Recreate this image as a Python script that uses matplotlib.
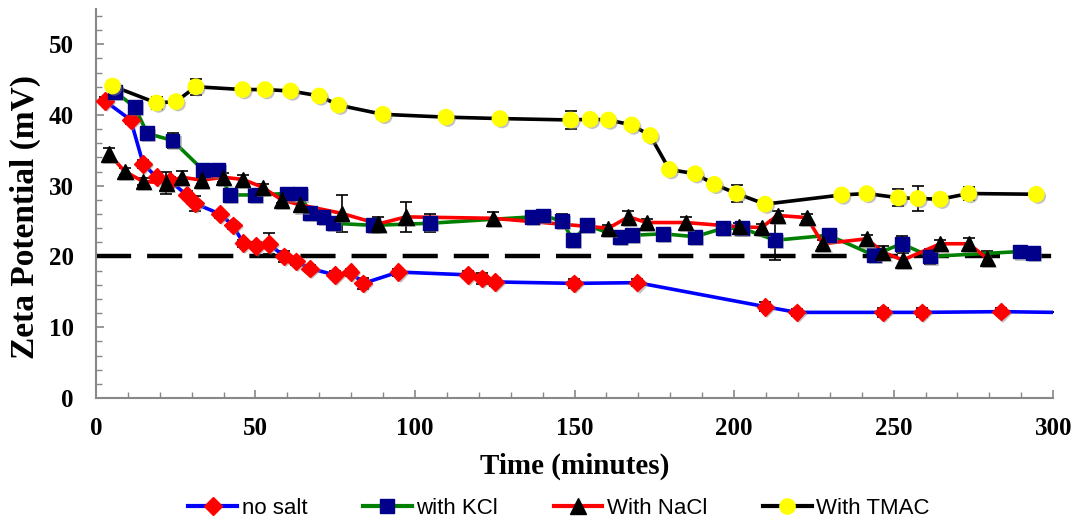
import matplotlib
matplotlib.use('Agg')
import matplotlib.pyplot as plt
import matplotlib.patheffects as pe
from matplotlib.lines import Line2D

# --- data ---
nosalt_t = [2.8, 10.9, 14.8, 19.0, 23.2, 28.4, 31.0, 38.9, 42.9, 46.2, 50.1, 54.2, 59.0,
            62.7, 67.1, 74.9, 79.8, 83.8, 94.8, 116.7, 120.9, 125.1, 149.9, 169.7,
            209.8, 219.6, 246.6, 258.8, 283.6, 300.0]
nosalt_z = [42.0, 39.3, 33.1, 31.2, 30.7, 28.7, 27.5, 26.0, 24.4, 21.9, 21.5, 21.8, 20.0,
            19.3, 18.3, 17.4, 17.8, 16.2, 17.8, 17.4, 16.9, 16.4, 16.2, 16.3,
            12.9, 12.1, 12.1, 12.1, 12.2, 12.1]
nosalt_err = [0.5, 0.5, 0.6, 0.5, 0.5, 0.5, 1.0, 0.5, 0.5, 0.5, 0.5, 1.5, 0.8,
              0.5, 0.5, 0.5, 0.5, 0.8, 0.5, 0.5, 0.8, 0.6, 0.6, 0.5,
              0.6, 0.5, 0.6, 0.6, 0.5, 0.0]

kcl_t = [6.0, 12.2, 16.1, 24.0, 33.6, 38.3, 42.0, 49.8, 59.8, 63.9, 67.1, 71.3, 74.4,
         86.9, 104.7, 136.6, 140.2, 146.0, 149.6, 153.8, 164.3, 167.9, 177.8, 187.8,
         196.6, 202.4, 212.9, 229.6, 243.7, 252.5, 261.4, 289.7, 293.8]
kcl_z = [43.3, 41.1, 37.4, 36.4, 32.2, 32.3, 28.7, 28.7, 28.9, 28.9, 26.1, 25.6, 24.7,
         24.4, 24.7, 25.6, 25.8, 25.0, 22.3, 24.4, 22.8, 23.0, 23.2, 22.8,
         24.0, 24.0, 22.3, 23.0, 20.2, 21.8, 20.0, 20.7, 20.5]
kcl_err = [0.5, 0.5, 0.5, 1.0, 0.5, 0.5, 0.5, 0.5, 0.5, 0.5, 0.5, 0.5, 0.9,
           0.8, 1.3, 0.5, 0.5, 1.0, 0.5, 0.5, 0.5, 0.8, 0.5, 0.5,
           0.5, 0.5, 2.8, 0.5, 0.5, 1.1, 1.0, 0.5, 0.5]

nacl_t = [4.1, 9.1, 14.8, 22.0, 26.9, 33.1, 39.9, 46.0, 52.2, 58.2, 64.0, 77.0, 88.5,
          97.2, 124.5, 160.6, 166.9, 172.6, 184.8, 201.6, 208.6, 213.6, 222.8,
          227.8, 241.6, 246.6, 252.9, 264.6, 273.5, 279.4]
nacl_z = [34.5, 32.0, 30.6, 30.4, 31.2, 30.8, 31.2, 30.9, 29.8, 28.0, 27.3, 26.1, 24.6,
          25.6, 25.4, 24.0, 25.6, 24.8, 24.8, 24.2, 24.1, 25.8, 25.5,
          21.8, 22.5, 20.6, 19.5, 21.8, 21.8, 19.7]
nacl_err = [0.9, 0.5, 0.5, 1.6, 0.9, 0.6, 0.6, 0.6, 0.5, 0.5, 0.8, 2.6, 1.0,
            2.1, 0.9, 0.5, 0.8, 0.5, 0.8, 0.5, 0.5, 0.6, 0.5,
            0.5, 0.6, 0.9, 1.0, 0.5, 0.8, 1.1]

tmac_t = [5.2, 19.0, 25.1, 31.3, 46.0, 53.0, 61.0, 70.0, 76.0, 89.9, 109.7, 126.6,
          148.8, 154.9, 160.6, 167.9, 173.7, 179.7, 187.8, 193.8, 200.8, 209.7,
          233.7, 241.6, 251.5, 257.6, 264.6, 273.5, 294.7]
tmac_z = [44.1, 41.7, 41.9, 44.0, 43.6, 43.6, 43.4, 42.7, 41.4, 40.1, 39.7, 39.5,
          39.3, 39.4, 39.3, 38.6, 37.1, 32.3, 31.7, 30.2, 28.9, 27.4,
          28.7, 28.9, 28.3, 28.2, 28.1, 28.9, 28.8]
tmac_err = [0.5, 0.9, 0.5, 1.1, 0.5, 0.5, 0.5, 0.5, 0.5, 0.5, 0.6, 0.5,
            1.3, 0.5, 0.5, 0.5, 0.5, 0.5, 0.5, 0.5, 1.2, 0.5,
            0.6, 0.6, 1.2, 1.7, 0.6, 0.9, 0.6]

threshold = 20

series = [
    ("no salt", nosalt_t, nosalt_z, nosalt_err, '#0000FF', 'D', '#FF0000', 9),
    ("with KCl", kcl_t, kcl_z, kcl_err, '#008000', 's', '#00008B', 10),
    ("With NaCl", nacl_t, nacl_z, nacl_err, '#FF0000', '^', '#000000', 11),
    ("With TMAC", tmac_t, tmac_z, tmac_err, '#000000', 'o', '#FFFF00', 11),
]

serif = ['Liberation Serif', 'DejaVu Serif']

fig = plt.figure(figsize=(10.78, 5.25), dpi=100)
ax = fig.add_axes([0.089, 0.242, 0.888, 0.741])

shadow = [pe.SimplePatchShadow(offset=(1.5, -1.5), shadow_rgbFace='#888888', alpha=0.5), pe.Normal()]

ax.plot([0, 300], [threshold, threshold], color='black', lw=3.2, dashes=(7.9, 3.6), zorder=2)

handles = []
for name, t, z, err, lc, mk, mc, ms in series:
    ax.errorbar(t, z, yerr=err, fmt='none', ecolor='black', elinewidth=1.2, capsize=4,
                capthick=1.2, zorder=3)
    ax.plot(t, z, color=lc, lw=2.6, zorder=4)
    # blue no-salt line runs to the edge without a final marker
    mt, mz = (t[:-1], z[:-1]) if name == "no salt" else (t, z)
    ax.plot(mt, mz, ls='none', marker=mk, ms=ms, mfc=mc, mec=mc, zorder=5,
            path_effects=shadow)
    handles.append(Line2D([], [], color=lc, lw=3, marker=mk, ms=ms, mfc=mc, mec=mc))

ax.set_xlim(0, 300)
ax.set_ylim(0, 55)
ax.set_xticks(range(0, 301, 50))
ax.set_xticks(range(0, 301, 10), minor=True)
ax.set_yticks(range(0, 51, 10))
ax.set_yticks(range(0, 55, 2), minor=True)
ax.tick_params(which='both', direction='in', color='#888888')
ax.tick_params(which='major', length=6, width=1.2)
ax.tick_params(which='minor', length=4, width=1)
ax.tick_params(axis='x', pad=14)
ax.tick_params(axis='y', pad=16)
for lab in ax.get_xticklabels() + ax.get_yticklabels():
    lab.set_fontfamily(serif)
    lab.set_fontweight('bold')
    lab.set_fontsize(18)

for s in ['top', 'right']:
    ax.spines[s].set_visible(False)
for s in ['left', 'bottom']:
    ax.spines[s].set_color('#888888')
    ax.spines[s].set_linewidth(1.5)

ax.set_xlabel("Time (minutes)", fontfamily=serif, fontweight='bold', fontsize=21, labelpad=9)
ax.set_ylabel("Zeta Potential (mV)", fontfamily=serif, fontweight='bold', fontsize=24)
ax.yaxis.set_label_coords(-0.057, 0.464)

fig.legend(handles, [s[0] for s in series], loc='center', bbox_to_anchor=(0.5186, 0.032),
           ncol=4, frameon=False, prop={'family': 'Liberation Sans', 'size': 16},
           handlelength=2.2, handletextpad=0.2, columnspacing=2.5)

fig.savefig('out.png', dpi=100)
